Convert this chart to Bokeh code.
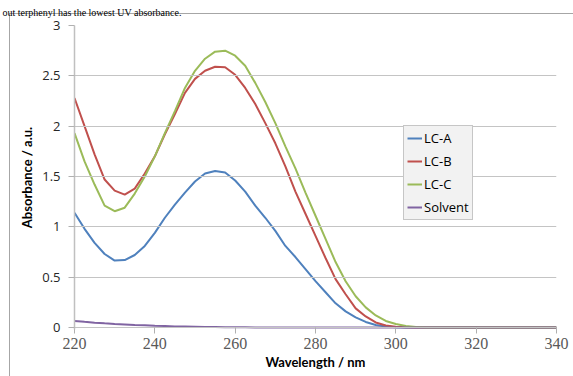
from bokeh.plotting import figure
from bokeh.models import (Range1d, FixedTicker, CustomJSTickFormatter, Legend, LegendItem, Title)
from bokeh.embed import file_html
from bokeh.resources import INLINE

wavelength = [220, 222.5, 225, 227.5, 230, 232.5, 235, 237.5, 240, 242.5, 245, 247.5, 250,
              252.5, 255, 257.5, 260, 262.5, 265, 267.5, 270, 272.5, 275, 277.5, 280, 282.5,
              285, 287.5, 290, 292.5, 295, 297.5, 300, 302.5, 305, 307.5, 310, 320, 330, 340]

lc_a = [1.14, 0.98, 0.84, 0.73, 0.665, 0.67, 0.72, 0.81, 0.94, 1.09, 1.22, 1.34, 1.45,
        1.53, 1.555, 1.54, 1.46, 1.35, 1.21, 1.09, 0.96, 0.81, 0.70, 0.58, 0.46, 0.35,
        0.24, 0.16, 0.10, 0.055, 0.025, 0.01, 0.003, 0, 0, 0, 0, 0, 0, 0]

lc_b = [2.28, 2.0, 1.72, 1.47, 1.36, 1.32, 1.38, 1.53, 1.70, 1.92, 2.12, 2.33, 2.47,
        2.55, 2.59, 2.585, 2.51, 2.38, 2.22, 2.03, 1.83, 1.60, 1.35, 1.13, 0.91, 0.69,
        0.48, 0.33, 0.19, 0.11, 0.05, 0.02, 0.008, 0.002, 0, 0, 0, 0, 0, 0]

lc_c = [1.93, 1.65, 1.42, 1.21, 1.155, 1.19, 1.33, 1.50, 1.70, 1.93, 2.15, 2.38, 2.55,
        2.67, 2.74, 2.75, 2.70, 2.60, 2.43, 2.24, 2.03, 1.80, 1.58, 1.34, 1.11, 0.88,
        0.65, 0.46, 0.31, 0.20, 0.12, 0.065, 0.035, 0.015, 0.005, 0, 0, 0, 0, 0]

solvent = [0.065, 0.056, 0.048, 0.041, 0.035, 0.030, 0.025, 0.021, 0.017, 0.014, 0.011,
           0.009, 0.007, 0.005, 0.004, 0.003, 0.002, 0.002, 0.001, 0.001, 0.001, 0, 0, 0,
           0, 0, 0, 0, 0, 0, 0, 0, 0, 0, 0, 0, 0, 0, 0, 0]

series_names = ["LC-A", "LC-B", "LC-C", "Solvent"]
series_colors = ["#4F81BD", "#C0504D", "#9BBB59", "#8064A2"]

x_ticks = [220, 240, 260, 280, 300, 320, 340]
y_ticks = [0, 0.5, 1, 1.5, 2, 2.5, 3]

caption = "out terphenyl has the lowest UV absorbance."

# chart-area border drawn as the page element's background (top and left edges)
border_css = ("linear-gradient(#a6a6a6, #a6a6a6) 9px 13px / 1px 400px no-repeat, "
              "linear-gradient(#a6a6a6, #a6a6a6) 9px 13px / 600px 1px no-repeat, white")

p = figure(width=573, height=376, output_backend="svg", toolbar_location=None,
           x_range=Range1d(220, 340), y_range=Range1d(-0.02, 3.0),
           min_border_left=74, min_border_right=17, min_border_top=25, min_border_bottom=47,
           styles={"background": border_css})
p.outline_line_color = None
p.background_fill_color = "white"
p.border_fill_alpha = 0

p.title = Title(text=caption, text_font="Liberation Serif", text_font_size="10px",
                text_font_style="normal", text_color="#000000", align="left",
                vertical_align="top", offset=-72, standoff=12)

p.xgrid.visible = False
p.ygrid.ticker = FixedTicker(ticks=y_ticks)
p.ygrid.grid_line_color = "#c4c4c4"
p.ygrid.grid_line_width = 1
p.ygrid.level = "glyph"

xa = p.xaxis[0]
xa.ticker = FixedTicker(ticks=x_ticks)
xa.axis_line_color = None
xa.major_tick_line_color = "#b0b0b0"
xa.major_tick_out = 4
xa.major_tick_in = 2
xa.minor_tick_line_color = None
xa.major_label_text_font = "Liberation Serif"
xa.major_label_text_font_size = "16px"
xa.major_label_text_color = "#595959"
xa.major_label_standoff = 4
xa.axis_label = "Wavelength / nm"
xa.axis_label_text_font = "Lato"
xa.axis_label_text_font_style = "bold"
xa.axis_label_text_font_size = "13px"
xa.axis_label_text_color = "#000000"
xa.axis_label_standoff = 2

ya = p.yaxis[0]
ya.ticker = FixedTicker(ticks=y_ticks)
ya.formatter = CustomJSTickFormatter(code="return tick.toString()")
ya.axis_line_color = "#c0c0c0"
ya.axis_line_width = 1.5
ya.major_tick_line_color = "#b0b0b0"
ya.major_tick_out = 6
ya.major_tick_in = 0
ya.minor_tick_line_color = None
ya.major_label_text_font = "Open Sans"
ya.major_label_text_font_size = "13px"
ya.major_label_text_color = "#262626"
ya.major_label_standoff = 8
ya.axis_label = "Absorbance / a.u."
ya.axis_label_text_font = "Lato"
ya.axis_label_text_font_style = "bold"
ya.axis_label_text_font_size = "13px"
ya.axis_label_text_color = "#000000"
ya.axis_label_standoff = 4

items = []
for name, ys, col in zip(series_names, [lc_a, lc_b, lc_c, solvent], series_colors):
    r = p.line(wavelength, ys, line_color=col, line_width=2)
    items.append(LegendItem(label=name, renderers=[r]))

legend = Legend(items=items, location=(329, 109), margin=0,
                glyph_width=15, glyph_height=18, label_height=18, label_standoff=2,
                spacing=5, padding=3,
                label_text_font="Open Sans", label_text_font_size="13px",
                label_text_color="#000000",
                border_line_color="#999999", border_line_width=1,
                background_fill_color="#f2f2f2", background_fill_alpha=1)
p.add_layout(legend)

open("out.html", "w").write(file_html(p, INLINE))
